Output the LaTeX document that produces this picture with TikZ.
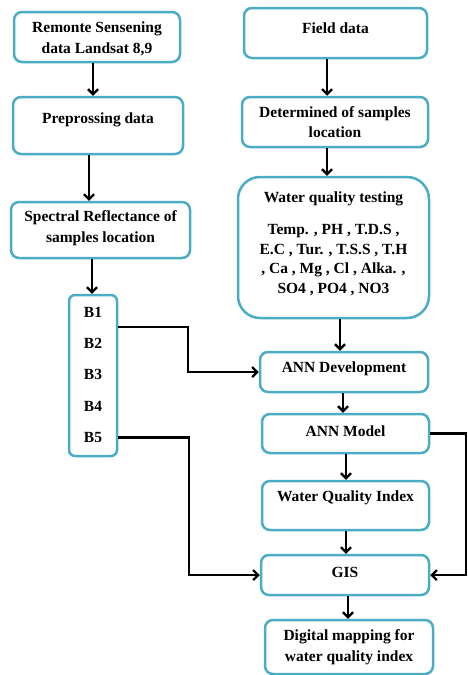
\documentclass[tikz,border=0pt]{standalone}
\usepackage{fontspec}
\setmainfont{Liberation Serif}
\usetikzlibrary{arrows.meta}
\definecolor{boxc}{HTML}{4BACC6}
\begin{document}
\begin{tikzpicture}[x=1pt,y=-1pt,
  box/.style={draw=boxc,line width=2.5pt,rounded corners=8pt,fill=white,inner sep=0pt,minimum width=#1},
  lbl/.style={font=\bfseries\fontsize{15.5}{20.5}\selectfont,align=center,inner sep=0pt},
  arr/.style={draw=black,line width=2.3pt,-{Straight Barb[length=5pt,width=10pt]}},
  ln/.style={draw=black,line width=2.3pt}]
\useasboundingbox (0,0) rectangle (468,675);
% left column
\node[box=166pt,minimum height=50pt] (rs) at (97,37) {};
\node[lbl] (rst) at (97,39) {Remonte Sensening\\data Landsat 8,9};
\node[box=170pt,minimum height=57pt] (pre) at (98,125.5) {};
\node[lbl] (pret) at (98,120) {Preprossing data};
\node[box=179pt,minimum height=56pt] (spec) at (100.5,230) {};
\node[lbl] (spect) at (100.5,228) {Spectral Reflectance of\\samples location};
\node[box=48pt,minimum height=161pt,rounded corners=6pt] (bands) at (93,375.5) {};
\node[lbl] (b1) at (93,312) {B1};
\node[lbl] (b2) at (93,343) {B2};
\node[lbl] (b3) at (93,374) {B3};
\node[lbl] (b4) at (93,406) {B4};
\node[lbl] (b5) at (93,437) {B5};
% right column
\node[box=183pt,minimum height=50pt] (fd) at (335.5,33) {};
\node[lbl] (fdt) at (335.5,28) {Field data};
\node[box=186pt,minimum height=50pt] (det) at (335,122) {};
\node[lbl] (dett) at (335,122) {Determined of samples\\location};
\node[box=191pt,minimum height=141pt,rounded corners=22pt] (wqt) at (333.5,247.5) {};
\node[lbl] (wqtt) at (333.5,199) {Water quality testing};
\node[lbl,font=\bfseries\fontsize{15.5}{19.7}\selectfont] (wqtp) at (333.5,260) {Temp. , PH , T.D.S ,\\E.C , Tur. , T.S.S , T.H\\, Ca , Mg , Cl , Alka. ,\\SO4 , PO4 , NO3};
\node[box=168pt,minimum height=40pt] (annd) at (344,372) {};
\node[lbl] (anndt) at (344,369) {ANN Development};
\node[box=167pt,minimum height=39pt] (annm) at (345.5,433.5) {};
\node[lbl] (annmt) at (345.5,431) {ANN Model};
\node[box=167pt,minimum height=49pt] (wqi) at (345.5,505.5) {};
\node[lbl] (wqit) at (345.5,498) {Water Quality Index};
\node[box=168pt,minimum height=40pt] (gis) at (345,575) {};
\node[lbl] (gist) at (345,572) {GIS};
\node[box=168pt,minimum height=54pt] (dm) at (349,647) {};
\node[lbl] (dmt) at (349,647) {Digital mapping for\\water quality index};
% vertical arrows
\coordinate (a1) at ([xshift=-4pt]rs.south);
\draw[arr] (a1) -- (a1 |- pre.north);
\coordinate (a2) at ([xshift=-9pt]pre.south);
\draw[arr] (a2) -- (a2 |- spec.north);
\coordinate (a3) at ([xshift=-8.5pt]spec.south);
\draw[arr] (a3) -- (a3 |- bands.north);
\coordinate (a4) at ([xshift=-8.5pt]fd.south);
\draw[arr] (a4) -- (a4 |- det.north);
\coordinate (a5) at ([xshift=-8pt]det.south);
\draw[arr] (a5) -- (a5 |- wqt.north);
\coordinate (a6) at ([xshift=6.5pt]wqt.south);
\draw[arr] (a6) -- (a6 |- annd.north);
\coordinate (a7) at ([xshift=-1pt]annd.south);
\draw[arr] (a7) -- (a7 |- annm.north);
\coordinate (a8) at ([xshift=0.5pt]annm.south);
\draw[arr] (a8) -- (a8 |- wqi.north);
\coordinate (a9) at ([xshift=0.5pt]wqi.south);
\draw[arr] (a9) -- (a9 |- gis.north);
\coordinate (a10) at ([xshift=3pt]gis.south);
\draw[arr] (a10) -- (a10 |- dm.north);
% side connectors
\coordinate (c1) at ([yshift=48.5pt]bands.east);
\draw[arr] (c1) -- ++(70,0) |- (annd.west);
\coordinate (c2) at ([yshift=-62pt]bands.east);
\draw[arr] (c2) -- ++(71,0) |- (gis.west);
\draw[arr] (annm.east) -- ++(36,0) |- (gis.east);
\end{tikzpicture}
\end{document}
